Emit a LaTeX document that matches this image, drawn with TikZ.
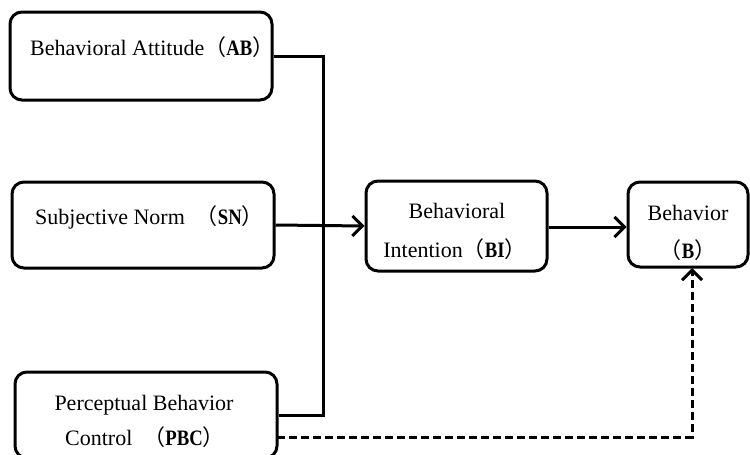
\documentclass[tikz,border=0pt]{standalone}
\usepackage{fontspec}
\usepackage{graphicx}
\setmainfont{Liberation Serif}
\newfontfamily\cjk{Noto Sans CJK SC}
\usetikzlibrary{arrows.meta}
\newcommand\abbr[1]{{\cjk （}\scalebox{0.85}[1]{\textbf{#1}}{\cjk ）}}
\begin{document}
\begin{tikzpicture}[x=1pt,y=-1pt,
  box/.style={draw=black, line width=3pt, rounded corners=12pt, fill=white},
  txt/.style={inner sep=0pt, font=\fontsize{22}{26}\selectfont},
  conn/.style={draw=black, line width=3pt},
  tip/.tip={Straight Barb[length=10pt,width=20pt,line width=3pt]},
  arr/.style={conn, -tip},
  dconn/.style={conn, dash pattern=on 8pt off 4pt}]
\useasboundingbox[fill=white] (0,0) rectangle (750,455);
% boxes
\node[box, minimum width=262pt, minimum height=88pt] (ab) at (141,56) {};
\node[box, minimum width=262pt, minimum height=86pt] (sn) at (143,225) {};
\node[box, minimum width=262pt, minimum height=86pt] (pbc) at (146,415) {};
\node[box, minimum width=181pt, minimum height=90pt] (bi) at (456.5,226) {};
\node[box, minimum width=120pt, minimum height=85pt] (b) at (688,224.5) {};
% texts
\node[txt, anchor=base west] (abt) at (30,55) {Behavioral Attitude\abbr{AB}};
\node[txt, anchor=base west] (snt) at (35,224) {Subjective Norm\ \ \abbr{SN}};
\node[txt, anchor=base] (pbct1) at (144,410) {Perceptual Behavior};
\node[txt, anchor=base west] (pbct2) at (65,445) {Control\ \ \abbr{PBC}};
\node[txt, anchor=base] (bit1) at (457,218) {Behavioral};
\node[txt, anchor=base] (bit2) at (455,257) {Intention\abbr{BI}};
\node[txt, anchor=base] (bt1) at (688,220) {Behavior};
\node[txt, anchor=base] (bt2) at (688,258) {\abbr{B}};
% connectors
\coordinate (jtop) at (323,56);
\coordinate (jbot) at (323,415);
\draw[conn] (ab.east) -- (jtop) -- (jbot) -- (pbc.east);
\draw[arr] (sn.east) -- (bi.west);
\draw[arr] (bi.east |- 0,227) -- (b.west |- 0,227);
\coordinate (dstart) at (277,437);
\coordinate (dcorner) at (692,437);
\coordinate (dend) at (692,268);
\draw[dconn, -tip] (dstart) -- (dcorner) -- (dend);
\end{tikzpicture}
\end{document}
